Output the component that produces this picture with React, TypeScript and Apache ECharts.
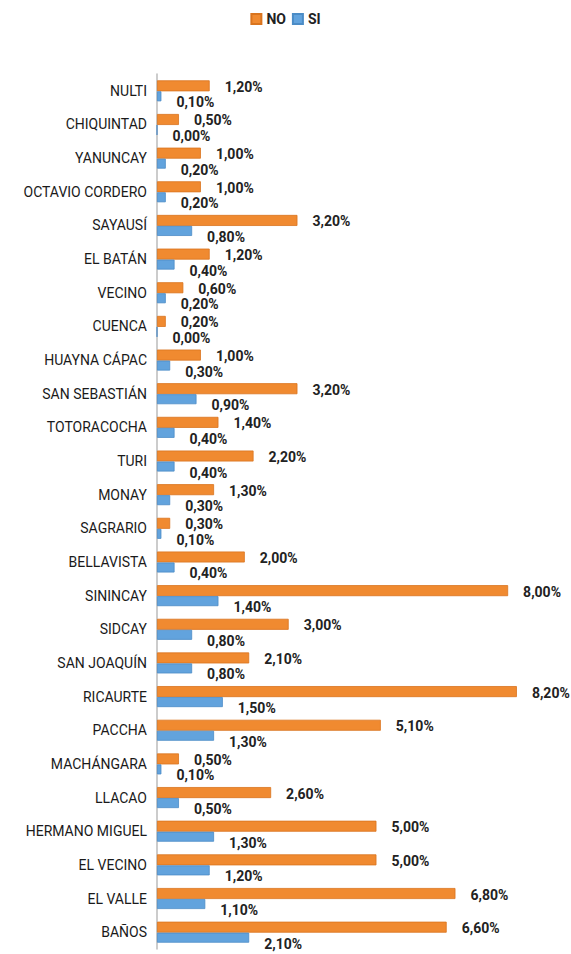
import React, { useEffect, useRef } from "react";
import * as echarts from "echarts";

const categories = [
  "NULTI", "CHIQUINTAD", "YANUNCAY", "OCTAVIO CORDERO", "SAYAUSÍ", "EL BATÁN", "VECINO", "CUENCA",
  "HUAYNA CÁPAC", "SAN SEBASTIÁN", "TOTORACOCHA", "TURI", "MONAY", "SAGRARIO", "BELLAVISTA",
  "SININCAY", "SIDCAY", "SAN JOAQUÍN", "RICAURTE", "PACCHA", "MACHÁNGARA", "LLACAO",
  "HERMANO MIGUEL", "EL VECINO", "EL VALLE", "BAÑOS",
];
const noValues = [1.2, 0.5, 1.0, 1.0, 3.2, 1.2, 0.6, 0.2, 1.0, 3.2, 1.4, 2.2, 1.3, 0.3, 2.0, 8.0, 3.0, 2.1, 8.2, 5.1, 0.5, 2.6, 5.0, 5.0, 6.8, 6.6];
const siValues = [0.1, 0.0, 0.2, 0.2, 0.8, 0.4, 0.2, 0.0, 0.3, 0.9, 0.4, 0.4, 0.3, 0.1, 0.4, 1.4, 0.8, 0.8, 1.5, 1.3, 0.1, 0.5, 1.3, 1.2, 1.1, 2.1];

const fmt = (p: any) => p.value.toFixed(2).replace(".", ",") + "%";

export default function App() {
  const ref = useRef<HTMLDivElement>(null);
  useEffect(() => {
    if (!ref.current) return;
    const chart = echarts.init(ref.current, null, { renderer: "svg" });
    const labelBase = {
      show: true,
      position: "right" as const,
      formatter: fmt,
      color: "#222",
      fontFamily: "Roboto",
      fontWeight: "bold" as const,
      fontSize: 14,
      lineHeight: 15,
      backgroundColor: "#fff",
      padding: [0, 2],
    };
    chart.setOption({
      animation: false,
      backgroundColor: "#fff",
      textStyle: { fontFamily: "Roboto" },
      legend: {
        top: 7,
        left: "center",
        itemWidth: 10,
        itemHeight: 10,
        itemGap: 6,
        icon: "rect",
        textStyle: { color: "#222", fontWeight: "bold", fontSize: 14, fontFamily: "Roboto" },
        data: ["NO", "SI"],
      },
      grid: { left: 157, right: 19, top: 74, bottom: 5, containLabel: false },
      xAxis: {
        type: "value",
        min: 0,
        max: 9,
        show: false,
        splitLine: { show: false },
      },
      yAxis: {
        type: "category",
        inverse: true,
        data: categories,
        axisLine: { show: true, lineStyle: { color: "#bbb", width: 1.5 } },
        axisTick: { show: false },
        axisLabel: { color: "#1a1a1a", fontSize: 14, fontFamily: "Roboto", margin: 10 },
      },
      series: [
        {
          name: "NO",
          type: "bar",
          data: noValues,
          barWidth: 11,
          barGap: "0%",
          itemStyle: { color: "#F08A30", borderColor: "#D9741E", borderWidth: 0.8 },
          label: { ...labelBase, offset: [8, 1] },
        },
        {
          name: "SI",
          type: "bar",
          data: siValues,
          barWidth: 10,
          itemStyle: { color: "#62A3DD", borderColor: "#4B8CC6", borderWidth: 0.8 },
          label: { ...labelBase, offset: [8, 6] },
        },
      ],
    });
    return () => chart.dispose();
  }, []);
  return (
    <div
      ref={ref}
      style={{ position: "fixed", left: 0, top: 0, width: 571, height: 954 }}
    />
  );
}
